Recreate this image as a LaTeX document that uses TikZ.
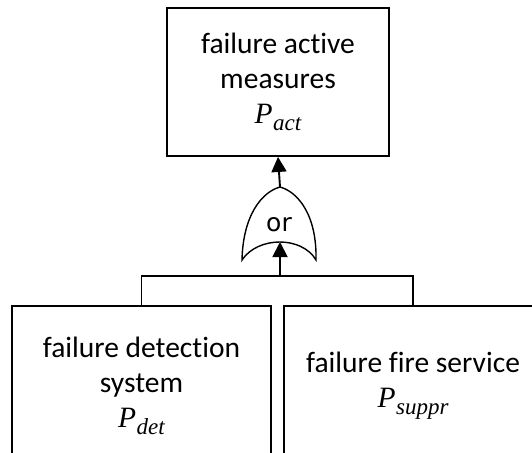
\documentclass[tikz,border=0pt]{standalone}
\usepackage{fontspec}
\setmainfont{Carlito}[Ligatures={NoCommon}]
\newfontfamily\gatefont{DejaVu Sans}
\newfontfamily\probfont{Liberation Serif}
\newcommand\probsym[1]{{\probfont\itshape P\kern0.5pt\raisebox{-7pt}{\fontsize{23}{23}\selectfont #1}}}
\usetikzlibrary{arrows.meta}

\begin{document}
\begin{tikzpicture}[x=1pt, y=-1pt,
  every node/.style={font=\fontsize{29.5}{35}\selectfont},
  event/.style={rectangle, draw, line width=1.9pt, align=center,
                inner sep=0pt, minimum width=#1},
  arr/.style={-{Triangle[length=15pt, width=15pt]}, line width=1.9pt},
  link/.style={line width=1.9pt},
  gateline/.style={line width=1.4pt},
]

% ── Zeichenfläche (untere Boxen laufen über den Rand hinaus) ─────────
\clip (0,0) rectangle (532,452);

% ── Top-Ereignis ─────────────────────────────────────────────────────
\node[event=222, minimum height=148] (measures) at (278,82)
  {failure active\\measures\\\probsym{act}};

% ── Basisereignisse ──────────────────────────────────────────────────
\node[event=259, minimum height=160] (det)  at (141.5,386)
  {failure detection\\system\\\probsym{det}};
\node[event=258, minimum height=160] (fire) at (413,386)
  {failure fire service\\\probsym{suppr}};

% ── ODER-Gatter ──────────────────────────────────────────────────────
\coordinate (gatetop) at (280,187);
\coordinate (gatein)  at (280,242);
\coordinate (bar)     at (280,276);
\draw[gateline] (242,260) .. controls (243,215) and (262,192) .. (gatetop)
  .. controls (298,192) and (317,215) .. (316,260)
  .. controls (302,236) and (258,236) .. cycle;
\node[font=\gatefont\fontsize{25}{28}\selectfont] (gate) at (279,225) {or};

% ── Verbindungen ─────────────────────────────────────────────────────
\draw[link] (det.north) |- (bar) -| (fire.north);
\draw[arr] (bar) -- (gatein);
\draw[arr] (gatetop) -- (measures.south);

\end{tikzpicture}
\end{document}
